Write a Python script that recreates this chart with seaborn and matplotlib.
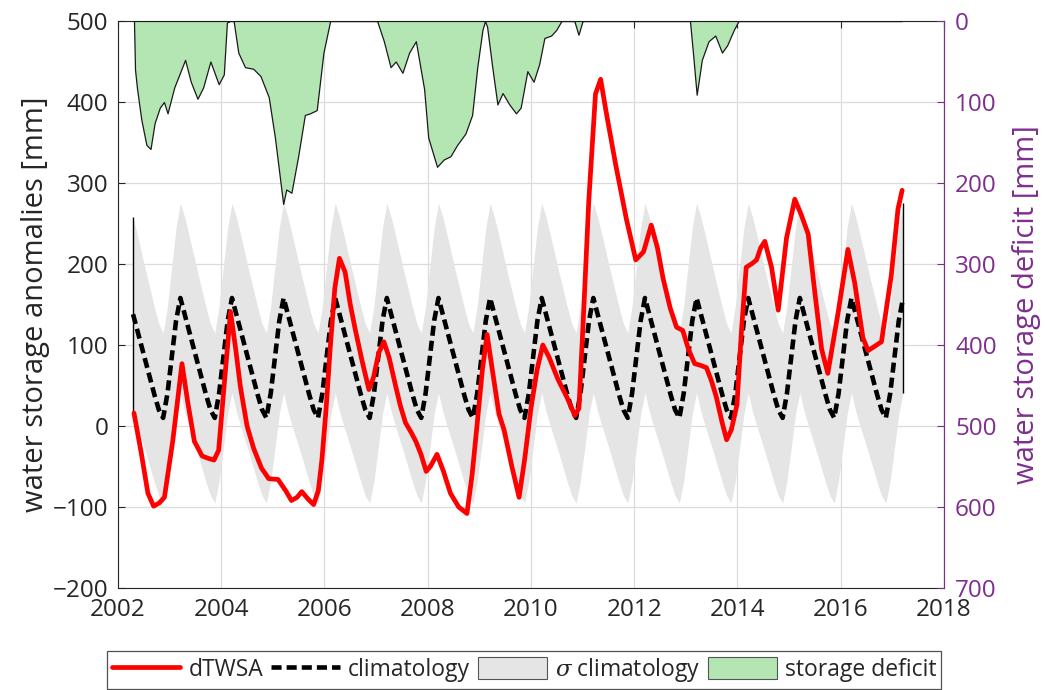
import numpy as np
import pandas as pd
import seaborn as sns
import matplotlib.pyplot as plt
from matplotlib.lines import Line2D
from matplotlib.patches import Patch

# climatology per calendar month (Jan..Dec) and its spread
clim_month = [85, 130, 158, 138, 118, 98, 78, 58, 38, 20, 10, 40]
sigma_month = [112, 115, 117, 120, 118, 115, 112, 110, 108, 106, 105, 108]

# monthly time axis Apr 2002 .. Mar 2017
first_year, first_month = 2002, 4
last_year, last_month = 2017, 3

# dTWSA
twsa_t = [2002.31, 2002.45, 2002.58, 2002.69, 2002.80, 2002.90, 2003.06, 2003.24, 2003.35, 2003.48,
          2003.63, 2003.75, 2003.86, 2003.95, 2004.05, 2004.18, 2004.28, 2004.37, 2004.50, 2004.63,
          2004.78, 2004.92, 2005.10, 2005.25, 2005.36, 2005.47, 2005.56, 2005.68, 2005.79, 2005.88,
          2005.95, 2006.03, 2006.11, 2006.20, 2006.29, 2006.40, 2006.50, 2006.60, 2006.73, 2006.86,
          2006.95, 2007.05, 2007.15, 2007.25, 2007.38, 2007.47, 2007.57, 2007.68, 2007.77, 2007.87,
          2007.97, 2008.05, 2008.18, 2008.30, 2008.44, 2008.60, 2008.76, 2008.86, 2008.96, 2009.06,
          2009.15, 2009.25, 2009.38, 2009.48, 2009.63, 2009.77, 2009.88, 2010.00, 2010.12, 2010.23,
          2010.35, 2010.52, 2010.70, 2010.85, 2010.93, 2011.02, 2011.12, 2011.25, 2011.35, 2011.45,
          2011.64, 2011.85, 2012.03, 2012.18, 2012.33, 2012.45, 2012.56, 2012.70, 2012.82, 2012.94,
          2013.05, 2013.17, 2013.28, 2013.40, 2013.50, 2013.59, 2013.70, 2013.79, 2013.88, 2013.99,
          2014.08, 2014.17, 2014.27, 2014.37, 2014.45, 2014.53, 2014.66, 2014.79, 2014.95, 2015.11,
          2015.24, 2015.37, 2015.50, 2015.63, 2015.75, 2015.95, 2016.14, 2016.27, 2016.43, 2016.53,
          2016.79, 2016.98, 2017.11, 2017.19]
twsa_v = [16, -33, -83, -99, -95, -88, -19, 77, 30, -19,
          -37, -40, -42, -30, 45, 141, 95, 49, 0, -28,
          -52, -65, -66, -80, -92, -88, -81, -90, -97, -80,
          -42, 20, 95, 170, 207, 190, 150, 118, 80, 45,
          60, 90, 104, 85, 49, 25, 4, -8, -19, -35,
          -56, -50, -35, -55, -83, -100, -108, -60, 4, 70,
          113, 70, 15, -5, -50, -88, -40, 22, 70, 100,
          85, 58, 35, 13, 22, 140, 278, 410, 428, 390,
          323, 255, 205, 215, 248, 220, 182, 145, 122, 118,
          95, 77, 75, 72, 55, 36, 5, -17, -5, 26,
          120, 196, 200, 205, 220, 228, 196, 143, 232, 280,
          260, 237, 164, 95, 65, 140, 218, 177, 109, 93,
          104, 186, 268, 291]

# storage deficit (right axis)
deficit_t = [2002.31, 2002.33, 2002.37, 2002.45, 2002.55, 2002.63, 2002.71, 2002.81, 2002.89, 2002.96,
             2003.09, 2003.30, 2003.41, 2003.54, 2003.65, 2003.79, 2003.95, 2004.05, 2004.11, 2004.17,
             2004.24, 2004.33, 2004.46, 2004.62, 2004.76, 2004.92, 2005.04, 2005.20, 2005.26, 2005.36,
             2005.49, 2005.62, 2005.72, 2005.85, 2005.98, 2006.11, 2007.02, 2007.15, 2007.28, 2007.38,
             2007.51, 2007.64, 2007.77, 2007.93, 2008.01, 2008.18, 2008.31, 2008.44, 2008.57, 2008.73,
             2008.86, 2008.96, 2009.06, 2009.11, 2009.15, 2009.25, 2009.35, 2009.45, 2009.58, 2009.71,
             2009.80, 2009.93, 2010.05, 2010.16, 2010.26, 2010.39, 2010.49, 2010.59, 2010.84, 2010.92,
             2011.00, 2013.08, 2013.15, 2013.21, 2013.31, 2013.44, 2013.57, 2013.70, 2013.80, 2013.93,
             2014.02, 2017.19]
deficit_v = [0, 60, 84, 121, 153, 158, 126, 107, 100, 114,
             82, 48, 75, 96, 82, 50, 78, 66, 2, 0,
             0, 39, 57, 59, 68, 94, 144, 226, 208, 212,
             167, 116, 114, 110, 39, 0, 0, 25, 57, 50,
             64, 39, 25, 84, 144, 180, 171, 167, 153, 139,
             116, 57, 11, 0, 7, 57, 103, 89, 103, 114,
             107, 62, 75, 53, 21, 18, 11, 0, 0, 17,
             0, 0, 48, 91, 48, 25, 18, 39, 30, 11,
             0, 0]

# monthly climatology table
rows = []
for y in range(first_year, last_year + 1):
    for m in range(1, 13):
        if (y, m) < (first_year, first_month) or (y, m) > (last_year, last_month):
            continue
        rows.append({"t": y + (m - 0.5) / 12, "clim": clim_month[m - 1], "sigma": sigma_month[m - 1]})
clim = pd.DataFrame(rows)
clim["upper"] = clim["clim"] + clim["sigma"]
clim["lower"] = clim["clim"] - clim["sigma"]

twsa = pd.DataFrame({"t": twsa_t, "dTWSA": twsa_v})

purple = "#7E2F8E"
dark = "#262626"

sns.set_style("white")
plt.rcParams["font.family"] = ["Open Sans", "DejaVu Sans"]
plt.rcParams["mathtext.fontset"] = "dejavuserif"
plt.rcParams["xtick.direction"] = "in"
plt.rcParams["ytick.direction"] = "in"

fig = plt.figure(figsize=(10.45, 6.9), dpi=100)
ax = fig.add_axes([0.1129, 0.1478, 0.7904, 0.8218])
ax2 = ax.twinx()

# sigma band
ax.fill_between(clim["t"], clim["lower"], clim["upper"], color="#e5e5e5", lw=0, zorder=1)
ax.vlines([clim["t"].iloc[0], clim["t"].iloc[-1]],
          [clim["lower"].iloc[0], clim["lower"].iloc[-1]],
          [clim["upper"].iloc[0], clim["upper"].iloc[-1]], color="k", lw=1, zorder=1.5)

sns.lineplot(data=clim, x="t", y="clim", ax=ax, color="k", lw=3.3, zorder=3)
ax.lines[-1].set_dashes((2.2, 1.1))
sns.lineplot(data=twsa, x="t", y="dTWSA", ax=ax, color="red", lw=3.4, zorder=4,
             solid_joinstyle="round", solid_capstyle="round")

ax.set_xlim(2002, 2018)
ax.set_ylim(-200, 500)
ax.set_xticks(range(2002, 2019, 2))
ax.set_yticks(range(-200, 501, 100))
ax.grid(True, color="#dcdcdc", lw=0.9)
ax.set_axisbelow(True)
ax.set_xlabel("")
ax.set_ylabel("water storage anomalies [mm]", fontsize=21, color=dark, labelpad=2)
ax.tick_params(axis="both", labelsize=17.5, colors=dark, length=5, width=0.8, pad=7, top=True)
for s in ax.spines.values():
    s.set_color(dark)
    s.set_linewidth(0.8)

# storage deficit on the inverted right axis
ax2.fill_between(deficit_t, 0, deficit_v, facecolor="#b3e6b3", edgecolor="#1a1a1a", lw=0.9, zorder=2)
ax2.set_ylim(700, 0)
ax2.set_yticks(range(0, 701, 100))
ax2.set_ylabel("water storage deficit [mm]", fontsize=21, color=purple, labelpad=11)
ax2.tick_params(axis="y", labelsize=17.5, colors=purple, length=5, width=0.8, pad=8)
ax2.spines["right"].set_color(purple)
ax2.spines["right"].set_linewidth(0.8)
for s in ["left", "top", "bottom"]:
    ax2.spines[s].set_visible(False)

handles = [
    Line2D([], [], color="red", lw=3.4),
    Line2D([], [], color="k", lw=3.3, dashes=(2.2, 1.1)),
    Patch(facecolor="#e5e5e5", edgecolor="#555555", lw=0.8),
    Patch(facecolor="#b3e6b3", edgecolor="#555555", lw=0.8),
]
labels = ["dTWSA", "climatology", r"$\sigma$ climatology", "storage deficit"]
leg = fig.legend(handles, labels, loc="center", bbox_to_anchor=(0.5015, 0.029), ncol=4,
                 fontsize=16.5, frameon=True, fancybox=False, edgecolor=dark,
                 handlelength=3.0, handleheight=1.1, handletextpad=0.35, columnspacing=0.35,
                 borderpad=0.2, borderaxespad=0)
leg.get_frame().set_linewidth(0.9)

fig.savefig("out.png", dpi=100)
